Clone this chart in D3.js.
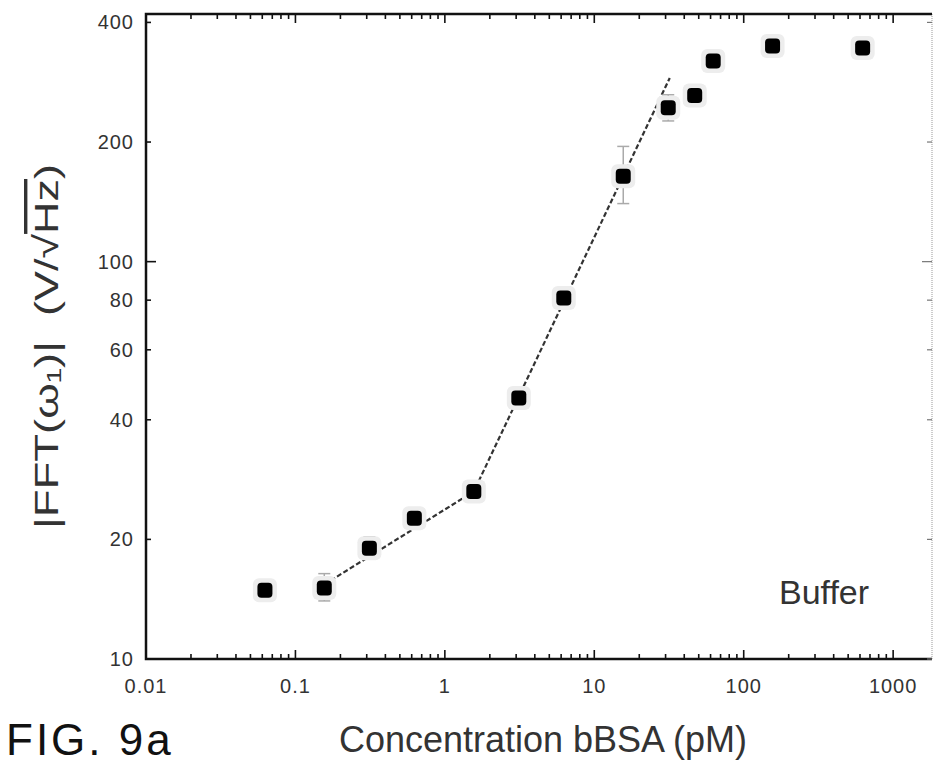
<!DOCTYPE html>
<html>
<head>
<meta charset="utf-8">
<script src="https://cdn.jsdelivr.net/npm/d3@7"></script>
<style>
  html, body { margin: 0; padding: 0; background: #fff; }
  svg { display: block; font-family: "Liberation Sans", Arial, sans-serif; }
</style>
</head>
<body>
<div id="chart"></div>
<script>
// Data (bBSA in buffer)
const concentration = [0.0625, 0.156, 0.3125, 0.625, 1.5625, 3.125, 6.25, 15.625, 31.25, 47, 62.5, 156, 625];
const fftAmp = [14.9, 15.1, 19.0, 22.6, 26.4, 45.4, 81, 164, 244, 262, 320, 349, 345];
const errLow = [14.4, 14.0, 17.9, 21.6, 25.6, 43.6, 76, 140, 226, 254, 302, 336, 332];
const errHigh = [15.4, 16.4, 20.3, 23.7, 27.3, 47.4, 86, 195, 263, 270, 340, 364, 360];

// Dashed fit (two power-law segments)
const fitX = [0.156, 1.5625, 32];
const fitY = [15.4, 26.4, 290];

// Axis ticks
const xTickValues = [0.01, 0.1, 1, 10, 100, 1000];
const xTickLabels = ["0.01", "0.1", "1", "10", "100", "1000"];
const yTickValues = [10, 20, 40, 60, 80, 100, 200, 400];
const yTickLabels = ["10", "20", "40", "60", "80", "100", "200", "400"];

const W = 934, H = 767;
const plot = { left: 146, right: 932, top: 14, bottom: 659 };

const x = d3.scaleLog().domain([0.01, 1820]).range([plot.left, plot.right]);
const y = d3.scaleLog().domain([10, 420]).range([plot.bottom, plot.top]);

const svg = d3.select("#chart").append("svg")
    .attr("width", W)
    .attr("height", H);

// frame
svg.append("line")
    .attr("x1", plot.right).attr("x2", plot.right)
    .attr("y1", plot.top).attr("y2", plot.bottom)
    .attr("stroke", "#999").attr("stroke-width", 1)
    .attr("stroke-dasharray", "1,1");

const frame = svg.append("g")
    .attr("stroke", "#111")
    .attr("stroke-width", 2.5)
    .attr("fill", "none");
frame.append("path")
    .attr("d", `M${plot.right},${plot.top}H${plot.left}V${plot.bottom}H${plot.right}`);

// x ticks, bottom and top, pointing inward
const xMinor = x.ticks().filter(v => v >= 0.01 && v <= 1820);
const isDecade = v => Math.abs(Math.log10(v) - Math.round(Math.log10(v))) < 1e-6;

const ticks = svg.append("g").attr("stroke", "#111").attr("stroke-width", 1.6);
ticks.selectAll(".xb").data(xMinor).enter().append("line")
    .attr("x1", d => x(d)).attr("x2", d => x(d))
    .attr("y1", plot.bottom)
    .attr("y2", d => plot.bottom - (isDecade(d) ? 9 : 5));
ticks.selectAll(".xt").data(xMinor).enter().append("line")
    .attr("x1", d => x(d)).attr("x2", d => x(d))
    .attr("y1", plot.top)
    .attr("y2", d => plot.top + (isDecade(d) ? 9 : 5));

// y ticks, left and right
ticks.selectAll(".yl").data(yTickValues).enter().append("line")
    .attr("x1", plot.left)
    .attr("x2", d => plot.left + (d === 100 ? 10 : 5))
    .attr("y1", d => y(d)).attr("y2", d => y(d));
ticks.selectAll(".yr").data(yTickValues).enter().append("line")
    .attr("x1", plot.right)
    .attr("x2", d => plot.right - (d === 100 ? 10 : 5))
    .attr("y1", d => y(d)).attr("y2", d => y(d))
    .attr("stroke", "#777").attr("stroke-width", 1.2);

// tick labels
svg.selectAll(".xlab").data(xTickValues).enter().append("text")
    .attr("x", d => x(d))
    .attr("y", 686)
    .attr("text-anchor", "middle")
    .attr("dominant-baseline", "central")
    .attr("font-size", 20)
    .attr("letter-spacing", 1)
    .attr("fill", "#333")
    .text((d, i) => xTickLabels[i]);

svg.selectAll(".ylab").data(yTickValues).enter().append("text")
    .attr("x", 134)
    .attr("y", d => y(d))
    .attr("text-anchor", "end")
    .attr("dominant-baseline", "central")
    .attr("font-size", 20)
    .attr("letter-spacing", 1)
    .attr("fill", "#333")
    .text((d, i) => yTickLabels[i]);

// fit line
const line = d3.line()
    .x(d => x(d[0]))
    .y(d => y(d[1]));
svg.append("path")
    .datum(d3.zip(fitX, fitY))
    .attr("d", line)
    .attr("fill", "none")
    .attr("stroke", "#333")
    .attr("stroke-width", 2.2)
    .attr("stroke-dasharray", "5,2.5");

// error bars
const pts = concentration.map((c, i) => ({ c, v: fftAmp[i], lo: errLow[i], hi: errHigh[i] }));
const eb = svg.append("g").attr("stroke", "#aaa").attr("stroke-width", 1.5);
eb.selectAll(".ev").data(pts).enter().append("line")
    .attr("x1", d => x(d.c)).attr("x2", d => x(d.c))
    .attr("y1", d => y(d.lo)).attr("y2", d => y(d.hi));
eb.selectAll(".cl").data(pts).enter().append("line")
    .attr("x1", d => x(d.c) - 6).attr("x2", d => x(d.c) + 6)
    .attr("y1", d => y(d.lo)).attr("y2", d => y(d.lo));
eb.selectAll(".ch").data(pts).enter().append("line")
    .attr("x1", d => x(d.c) - 6).attr("x2", d => x(d.c) + 6)
    .attr("y1", d => y(d.hi)).attr("y2", d => y(d.hi));

// markers
svg.selectAll(".halo").data(pts).enter().append("rect")
    .attr("x", d => x(d.c) - 12).attr("y", d => y(d.v) - 12)
    .attr("width", 24).attr("height", 24).attr("rx", 6)
    .attr("fill", "#ededed");
svg.selectAll(".pt").data(pts).enter().append("rect")
    .attr("x", d => x(d.c) - 7.5).attr("y", d => y(d.v) - 7.5)
    .attr("width", 15).attr("height", 15).attr("rx", 4)
    .attr("fill", "#000");

// annotations
svg.append("text")
    .attr("x", 779).attr("y", 604)
    .attr("font-size", 34)
    .attr("fill", "#333")
    .text("Buffer");

svg.append("text")
    .attr("x", 543).attr("y", 752)
    .attr("text-anchor", "middle")
    .attr("font-size", 36)
    .attr("fill", "#333")
    .text("Concentration bBSA (pM)");

svg.append("text")
    .attr("x", 6).attr("y", 755)
    .attr("font-size", 44)
    .attr("letter-spacing", 3)
    .attr("fill", "#111")
    .text("FIG. 9a");

// y axis title (rotated)
const yt1 = svg.append("text")
    .attr("transform", "translate(58,435) rotate(-90)")
    .attr("text-anchor", "middle")
    .attr("font-size", 34)
    .attr("textLength", 188)
    .attr("lengthAdjust", "spacingAndGlyphs")
    .attr("fill", "#333");
yt1.text("|FFT(ω₁)|");

const yt2 = svg.append("text")
    .attr("transform", "translate(58,240) rotate(-90)")
    .attr("text-anchor", "middle")
    .attr("font-size", 34)
    .attr("textLength", 152)
    .attr("lengthAdjust", "spacingAndGlyphs")
    .attr("fill", "#333");
yt2.append("tspan").text("(V/√");
yt2.append("tspan").style("text-decoration", "overline").text("Hz");
yt2.append("tspan").text(")");
</script>
</body>
</html>
